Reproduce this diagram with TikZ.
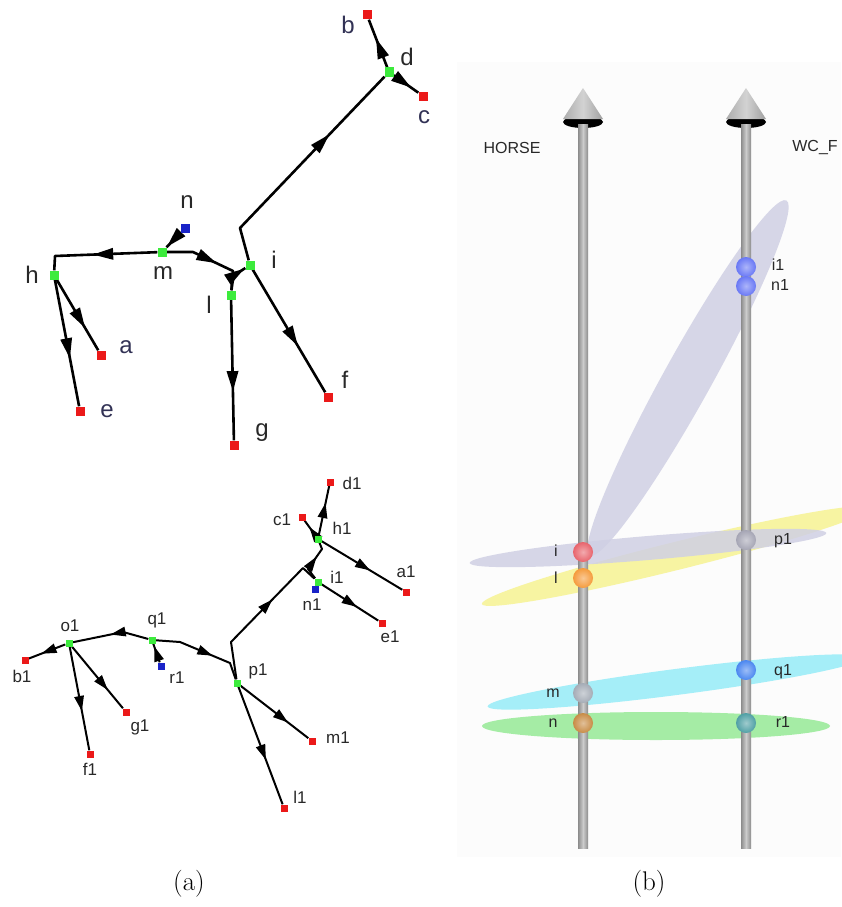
\documentclass[tikz,border=0pt]{standalone}
\usepackage{fontspec}
\newfontfamily\labfont{Liberation Sans}
\usetikzlibrary{arrows.meta,decorations.markings,backgrounds,shadings}
\definecolor{leafred}{RGB}{235,25,25}
\definecolor{innergreen}{RGB}{60,235,60}
\definecolor{srcblue}{RGB}{25,35,200}
\definecolor{labdark}{RGB}{40,40,40}
\definecolor{labblue}{RGB}{50,50,85}
\definecolor{grayell}{RGB}{208,208,228}
\definecolor{yellowell}{RGB}{246,242,140}
\definecolor{cyanell}{RGB}{150,236,248}
\definecolor{greenell}{RGB}{150,234,150}
\definecolor{panelbg}{RGB}{252,252,252}
\definecolor{sphI}{RGB}{232,100,108}
\definecolor{sphL}{RGB}{245,155,60}
\definecolor{sphM}{RGB}{165,172,182}
\definecolor{sphN}{RGB}{200,140,70}
\definecolor{sphP}{RGB}{165,165,180}
\definecolor{sphQ}{RGB}{75,135,240}
\definecolor{sphR}{RGB}{80,160,165}
\definecolor{sphB}{RGB}{105,120,245}
\tikzset{
  sq/.style={rectangle, inner sep=0pt, minimum size=9pt},
  sqs/.style={rectangle, inner sep=0pt, minimum size=7pt},
  leafn/.style={sq, fill=leafred},
  innern/.style={sq, fill=innergreen},
  srcn/.style={sq, fill=srcblue},
  leafs/.style={sqs, fill=leafred},
  inners/.style={sqs, fill=innergreen},
  srcs/.style={sqs, fill=srcblue},
  edgeA/.style={line width=2.6pt, black, line join=round},
  edgeB/.style={line width=2pt, black, line join=round},
  arrA/.style={postaction={decorate}, decoration={markings, mark=at position #1 with {\fill[black] (-20pt,-6pt) -- (0pt,0pt) -- (-20pt,6pt) -- cycle;}}},
  arrB/.style={postaction={decorate}, decoration={markings, mark=at position #1 with {\fill[black] (-15pt,-5pt) -- (0pt,0pt) -- (-15pt,5pt) -- cycle;}}},
  labA/.style={inner sep=0pt, text=labdark, font=\labfont\fontsize{24}{26}\selectfont},
  labAb/.style={labA, text=labblue},
  labB/.style={inner sep=0pt, text=labdark, font=\labfont\fontsize{17}{19}\selectfont},
  labC/.style={inner sep=0pt, text=labdark, font=\labfont\fontsize{16}{18}\selectfont},
  rod/.style={left color=gray!90, right color=gray!90, middle color=gray!40},
  conebody/.style={left color=gray!65, right color=gray!75, middle color=gray!35},
  sph/.style={inner color=#1!55!white, outer color=#1},
  capt/.style={inner sep=0pt, font=\fontsize{27}{30}\selectfont},
}
\begin{document}
\begin{tikzpicture}[x=1pt, y=-1pt]
\useasboundingbox (0,0) rectangle (841,907);

% ================= (a) top tree =================
\node[leafn]  (b) at (367,15) {};
\node[innern] (d) at (389,72) {};
\node[leafn]  (c) at (423,96) {};
\node[innern] (i) at (250,265) {};
\node[innern] (l) at (231,295) {};
\node[leafn]  (f) at (328,397) {};
\node[leafn]  (g) at (234,445) {};
\node[innern] (m) at (162,252) {};
\node[srcn]   (n) at (185,228) {};
\node[innern] (h) at (54,275) {};
\node[leafn]  (a) at (101,355) {};
\node[leafn]  (e) at (80,411) {};
\coordinate (ci) at (240,228);
\coordinate (cm1) at (193,252);
\coordinate (cm2) at (233,271);
\coordinate (ch) at (55,256);

\begin{scope}[on background layer]
  \draw[edgeA, arrA=0.6] (d) -- (b);
  \draw[edgeA, arrA=0.7] (d) -- (c);
  \draw[edgeA, arrA=0.67] (i) -- (ci) -- (d);
  \draw[edgeA, arrA=0.62] (i) -- (f);
  \draw[edgeA, arrA=0.65] (l) -- (g);
  \draw[edgeA, arrA=0.95] (l) .. controls (233,276) .. (i);
  \draw[edgeA, arrA=0.58] (m) -- (cm1) -- (cm2) -- (l);
  \draw[edgeA, arrA=0.95] (n) -- (m);
  \draw[edgeA, arrA=0.55] (m) -- (ch) -- (h);
  \draw[edgeA, arrA=0.68] (h) -- (a);
  \draw[edgeA, arrA=0.62] (h) -- (e);
\end{scope}

\node[labAb] (tb) at (348,25) {b};
\node[labA]  (td) at (407,57) {d};
\node[labAb] (tc) at (424,117) {c};
\node[labA]  (tn) at (187,202) {n};
\node[labA]  (tm) at (163,273) {m};
\node[labA]  (th) at (32,275) {h};
\node[labA]  (ti) at (274,260) {i};
\node[labA]  (tl) at (209,305) {l};
\node[labAb] (ta) at (126,347) {a};
\node[labAb] (te) at (107,411) {e};
\node[labA]  (tf) at (345,380) {f};
\node[labA]  (tg) at (262,433) {g};

% ================= (a) bottom tree =================
\node[leafs]  (d1) at (330,482) {};
\node[leafs]  (c1) at (302,517) {};
\node[inners] (h1) at (318,539) {};
\node[leafs]  (a1) at (406,592) {};
\node[inners] (i1) at (318,582) {};
\node[srcs]   (n1) at (315,589) {};
\node[leafs]  (e1) at (382,623) {};
\node[inners] (p1) at (237,683) {};
\node[leafs]  (m1) at (312,741) {};
\node[leafs]  (l1) at (284,808) {};
\node[inners] (q1) at (152,640) {};
\node[srcs]   (r1) at (161,666) {};
\node[inners] (o1) at (69,643) {};
\node[leafs]  (b1) at (25,660) {};
\node[leafs]  (g1) at (126,712) {};
\node[leafs]  (f1) at (90,754) {};
\coordinate (cp1) at (231,642);
\coordinate (cp2) at (303,568);
\coordinate (ch1a) at (308,569);
\coordinate (ch1b) at (322,549);
\coordinate (cq1) at (180,642);
\coordinate (cq2) at (230,663);
\coordinate (co1) at (123,632);

\begin{scope}[on background layer]
  \draw[edgeB, arrB=0.65] (h1) -- (d1);
  \draw[edgeB, arrB=0.55] (h1) -- (c1);
  \draw[edgeB, arrB=0.6] (h1) -- (a1);
  \draw[edgeB, arrB=0.62] (i1) -- (ch1a) -- (ch1b) -- (h1);
  \draw[edgeB, arrB=0.62] (i1) -- (e1);
  \draw[edgeB] (n1) -- (i1);
  \draw[edgeB, arrB=0.62] (p1) -- (cp1) -- (cp2) -- (i1);
  \draw[edgeB, arrB=0.7] (p1) -- (m1);
  \draw[edgeB, arrB=0.62] (p1) -- (l1);
  \draw[edgeB, arrB=0.62] (q1) -- (cq1) -- (cq2) -- (p1);
  \draw[edgeB, arrB=0.85] (r1) -- (q1);
  \draw[edgeB, arrB=0.5] (q1) -- (co1) -- (o1);
  \draw[edgeB, arrB=0.65] (o1) -- (b1);
  \draw[edgeB, arrB=0.7] (o1) -- (g1);
  \draw[edgeB, arrB=0.62] (o1) -- (f1);
\end{scope}

\node[labB] (td1) at (352,483) {d1};
\node[labB] (tc1) at (282,520) {c1};
\node[labB] (th1) at (342,528) {h1};
\node[labB] (ta1) at (406,572) {a1};
\node[labB] (ti1) at (337,577) {i1};
\node[labB] (tn1) at (312,605) {n1};
\node[labB] (te1) at (390,637) {e1};
\node[labB] (tp1) at (258,671) {p1};
\node[labB] (tm1) at (338,738) {m1};
\node[labB] (tl1) at (300,797) {l1};
\node[labB] (tq1) at (157,620) {q1};
\node[labB] (tr1) at (177,678) {r1};
\node[labB] (to1) at (70,626) {o1};
\node[labB] (tb1) at (22,676) {b1};
\node[labB] (tg1) at (140,727) {g1};
\node[labB] (tf1) at (90,769) {f1};

% ================= (b) =================
\fill[panelbg] (457,62) rectangle (841,857);

% planes
\fill[yellowell, opacity=0.8, rotate around={13.9:(676,556)}] (676,556) ellipse [x radius=200pt, y radius=14pt];
\fill[grayell, opacity=0.85, rotate around={61:(688,378)}] (688,378) ellipse [x radius=203pt, y radius=24pt];
\fill[grayell, opacity=0.85, rotate around={4.8:(648,548)}] (648,548) ellipse [x radius=179pt, y radius=12pt];
\fill[cyanell, opacity=0.85, rotate around={7.4:(676,682)}] (676,682) ellipse [x radius=190pt, y radius=13pt];
\fill[greenell, opacity=0.85] (656,726) ellipse [x radius=174pt, y radius=14pt];

% cones and rods
\fill[black] (583,122) ellipse [x radius=20pt, y radius=6pt];
\shade[conebody] (563,119) -- (583,88) -- (603,119) -- cycle;
\fill[black] (746,122) ellipse [x radius=20pt, y radius=6pt];
\shade[conebody] (726,119) -- (746,88) -- (766,119) -- cycle;
\shade[rod] (578,124) rectangle (588,848);
\shade[rod] (741,124) rectangle (751,848);

% spheres
\shade[sph=sphI] (583,552) circle (10pt);
\shade[sph=sphL] (583,578) circle (10pt);
\shade[sph=sphM] (583,693) circle (10pt);
\shade[sph=sphN] (583,723) circle (10pt);
\shade[sph=sphP] (746,540) circle (10pt);
\shade[sph=sphQ] (746,670) circle (10pt);
\shade[sph=sphR] (746,723) circle (10pt);
\shade[sph=sphB] (746,267) circle (10pt);
\shade[sph=sphB] (746,286) circle (10pt);

\node[labC] (hor) at (512,148) {HORSE};
\node[labC] (wcf) at (815,148) {WC\_F};
\node[labC] (si)  at (556,551) {i};
\node[labC] (sl)  at (556,578) {l};
\node[labC] (sm)  at (553,693) {m};
\node[labC] (sn)  at (553,723) {n};
\node[labC] (sp1) at (783,541) {p1};
\node[labC] (sq1) at (783,672) {q1};
\node[labC] (sr1) at (783,722) {r1};
\node[labC] (si1) at (778,265) {i1};
\node[labC] (sn1) at (780,285) {n1};

% captions
\node[capt] (capa) at (189,884) {(a)};
\node[capt] (capb) at (649,884) {(b)};
\end{tikzpicture}
\end{document}
